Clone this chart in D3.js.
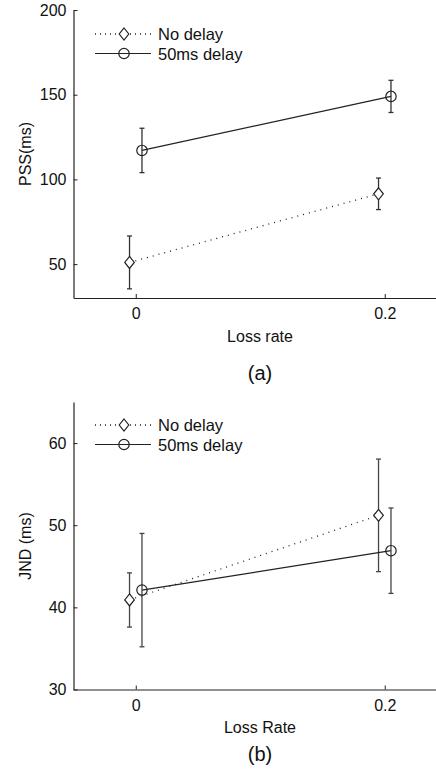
<!DOCTYPE html>
<html>
<head>
<meta charset="utf-8">
<script src="https://cdn.jsdelivr.net/npm/d3@7"></script>
<style>
  html, body { margin: 0; padding: 0; background: #fff; }
  svg { display: block; font-family: "Liberation Sans", Arial, sans-serif; }
</style>
</head>
<body>
<svg id="chart" width="436" height="773"></svg>
<script>
// Loss rate categories, with a small horizontal offset per condition
const lossRates = [0, 0.2];
const seriesNames = ["No delay", "50ms delay"];
const seriesOffsets = [-0.005, 0.005];

// Panel (a): point of subjective simultaneity (ms), mean and error
const pssNoDelay = [51, 91.5];
const pssNoDelayErr = [15.6, 9.3];
const pss50ms = [117.1, 149];
const pss50msErr = [13.1, 9.5];

// Panel (b): just noticeable difference (ms), mean and error
const jndNoDelay = [40.9, 51.2];
const jndNoDelayErr = [3.3, 6.85];
const jnd50ms = [42.1, 46.9];
const jnd50msErr = [6.9, 5.2];

// Axis ticks
const xTicks = [0, 0.2];
const pssTicks = [50, 100, 150, 200];
const jndTicks = [30, 40, 50, 60];

const FONT = "Liberation Sans, Arial, sans-serif";
const svg = d3.select("#chart");

function panel(opts) {
  const g = svg.append("g");
  const x = d3.scaleLinear().domain([-0.05, 0.25]).range([73.5, 447]);
  const y = d3.scaleLinear().domain(opts.yDomain).range(opts.yRange);

  // axes with inward ticks, no box
  const xAxis = d3.axisBottom(x).tickValues(xTicks).tickFormat(d3.format("")).tickSizeInner(-4).tickSizeOuter(0).tickPadding(10);
  const yAxis = d3.axisLeft(y).tickValues(opts.yTicks).tickSizeInner(-4).tickSizeOuter(0).tickPadding(7);

  const gx = g.append("g").attr("transform", `translate(0,${opts.yRange[0]})`).call(xAxis);
  const gy = g.append("g").attr("transform", `translate(${x.range()[0]},0)`).call(yAxis);
  [gx, gy].forEach(a => {
    a.select(".domain").attr("stroke", "#222").attr("stroke-width", 1.2);
    a.selectAll(".tick line").attr("stroke", "#222");
    a.selectAll("text").attr("font-size", 16).attr("fill", "#111").attr("font-family", FONT);
  });

  // y axis label
  g.append("text")
    .attr("transform", `translate(31,${opts.yLabelY}) rotate(-90)`)
    .attr("text-anchor", "middle")
    .attr("font-size", 16).attr("fill", "#111")
    .text(opts.yLabel);

  // x axis label
  g.append("text")
    .attr("x", 260).attr("y", opts.yRange[0] + 43.5)
    .attr("text-anchor", "middle")
    .attr("font-size", 16).attr("fill", "#111")
    .text(opts.xLabel);

  // panel caption
  g.append("text")
    .attr("x", 260).attr("y", opts.captionY)
    .attr("text-anchor", "middle")
    .attr("font-size", 20).attr("fill", "#111")
    .text(opts.caption);

  const series = [
    { vals: opts.s0, errs: opts.e0, off: seriesOffsets[0], dash: "1,5", marker: "diamond" },
    { vals: opts.s1, errs: opts.e1, off: seriesOffsets[1], dash: null, marker: "circle" }
  ];

  const line = d3.line().x(d => x(d.x)).y(d => y(d.v));

  series.forEach(s => {
    const pts = lossRates.map((r, i) => ({ x: r + s.off, v: s.vals[i], e: s.errs[i] }));

    // connecting line
    g.append("path").datum(pts)
      .attr("d", line)
      .attr("fill", "none").attr("stroke", "#222").attr("stroke-width", s.dash ? 1.3 : 1.2)
      .attr("stroke-dasharray", s.dash);

    // error bars
    const eb = g.append("g").attr("stroke", opts.errColor).attr("stroke-width", 1.3);
    pts.forEach(p => {
      const cx = x(p.x);
      eb.append("line").attr("x1", cx).attr("x2", cx).attr("y1", y(p.v - p.e)).attr("y2", y(p.v + p.e));
      [p.v - p.e, p.v + p.e].forEach(v => {
        eb.append("line").attr("x1", cx - 2.5).attr("x2", cx + 2.5).attr("y1", y(v)).attr("y2", y(v));
      });
    });

    // markers
    pts.forEach(p => drawMarker(g, s.marker, x(p.x), y(p.v)));
  });

  // legend
  const lg = g.append("g");
  series.forEach((s, i) => {
    const ly = opts.legendY + i * 19.5;
    lg.append("line").attr("x1", 95).attr("x2", 151).attr("y1", ly).attr("y2", ly)
      .attr("stroke", "#222").attr("stroke-width", s.dash ? 1.3 : 1.2)
      .attr("stroke-dasharray", s.dash ? "1,4" : null);
    drawMarker(lg, s.marker, 124, ly);
    lg.append("text").attr("x", 158).attr("y", ly + 6)
      .attr("font-size", 16.5).attr("fill", "#111").text(seriesNames[i]);
  });
}

function drawMarker(g, type, cx, cy) {
  if (type === "diamond") {
    g.append("path")
      .attr("d", `M${cx},${cy - 6}L${cx + 4.8},${cy}L${cx},${cy + 6}L${cx - 4.8},${cy}Z`)
      .attr("fill", "#fff").attr("stroke", "#222").attr("stroke-width", 1.2);
  } else {
    g.append("circle").attr("cx", cx).attr("cy", cy).attr("r", 5.2)
      .attr("fill", "none").attr("stroke", "#222").attr("stroke-width", 1.2);
  }
}

panel({
  yDomain: [30, 200], yRange: [298, 10], yTicks: pssTicks,
  s0: pssNoDelay, e0: pssNoDelayErr, s1: pss50ms, e1: pss50msErr,
  yLabel: "PSS(ms)", xLabel: "Loss rate", caption: "(a)", legendY: 34,
  yLabelY: 154, captionY: 380, errColor: "#333"
});

panel({
  yDomain: [30, 65], yRange: [689.5, 402], yTicks: jndTicks,
  s0: jndNoDelay, e0: jndNoDelayErr, s1: jnd50ms, e1: jnd50msErr,
  yLabel: "JND (ms)", xLabel: "Loss Rate", caption: "(b)", legendY: 425,
  yLabelY: 546, captionY: 761, errColor: "#444"
});
</script>
</body>
</html>
